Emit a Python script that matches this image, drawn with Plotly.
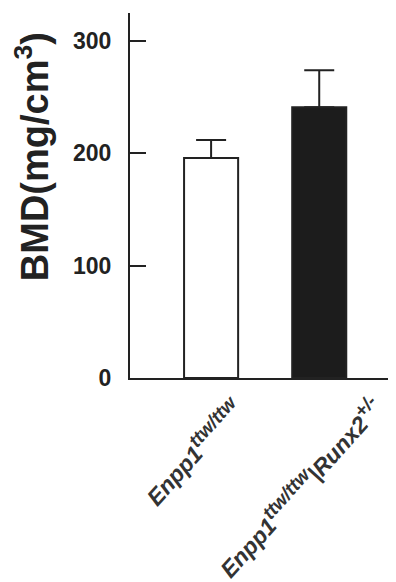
import plotly.graph_objects as go

categories = ["Enpp1 ttw/ttw", "Enpp1 ttw/ttw|Runx2 +/-"]
SUP = '<sup><span style="font-size:19px">{}</span></sup>'
category_labels = [
    "<i>Enpp1" + SUP.format("ttw/ttw") + "</i>",
    "<i>Enpp1" + SUP.format("ttw/ttw") + "|Runx2" + SUP.format("+/-") + "</i>",
]
bmd_values = [196, 241]
bmd_sem = [16, 33]
bar_colors = ["#ffffff", "#1c1c1c"]
y_ticks = [0, 100, 200, 300]

INK = "#222222"
FONT = "Liberation Sans, Arial, sans-serif"

fig = go.Figure()
fig.add_trace(go.Bar(
    x=[0, 1],
    y=bmd_values,
    width=0.5,
    marker=dict(color=bar_colors, line=dict(color=INK, width=2)),
    error_y=dict(type="data", symmetric=False, array=bmd_sem,
                 arrayminus=[0, 0], color=INK, thickness=2, width=15),
    showlegend=False,
))

# page body adds an 8px offset; figure is sized to fill the rest of the window
fig.update_layout(
    width=388, height=574,
    margin=dict(l=122, r=0, t=5, b=204),
    paper_bgcolor="white", plot_bgcolor="white",
    font=dict(family=FONT, color=INK),
    xaxis=dict(range=[-0.75, 1.71], showticklabels=False, ticks="",
               showgrid=False, zeroline=False, showline=True,
               linecolor=INK, linewidth=2),
    yaxis=dict(range=[0, 325], tickvals=y_ticks, ticks="inside", ticklen=16,
               tickwidth=2, tickcolor=INK, showgrid=False, zeroline=False,
               showline=True, linecolor=INK, linewidth=2,
               tickfont=dict(family=FONT, size=23, color=INK, weight="bold"),
               ticklabelstandoff=12),
)

fig.add_annotation(
    text="BMD(mg/cm<sup>3</sup>)", textangle=-90,
    xref="paper", yref="paper", x=0, y=0.605, xshift=-98,
    xanchor="center", yanchor="middle", showarrow=False,
    font=dict(family=FONT, size=38, color=INK, weight="bold"),
)

label_shift = [41, 72]
for i, lab in enumerate(category_labels):
    fig.add_annotation(
        text=lab, textangle=-48,
        xref="x", yref="paper", x=i, y=0, xshift=label_shift[i], yshift=-10,
        xanchor="right", yanchor="top", showarrow=False,
        font=dict(family=FONT, size=23, color="#333333", weight="bold"),
    )

fig.write_html("out.html")
